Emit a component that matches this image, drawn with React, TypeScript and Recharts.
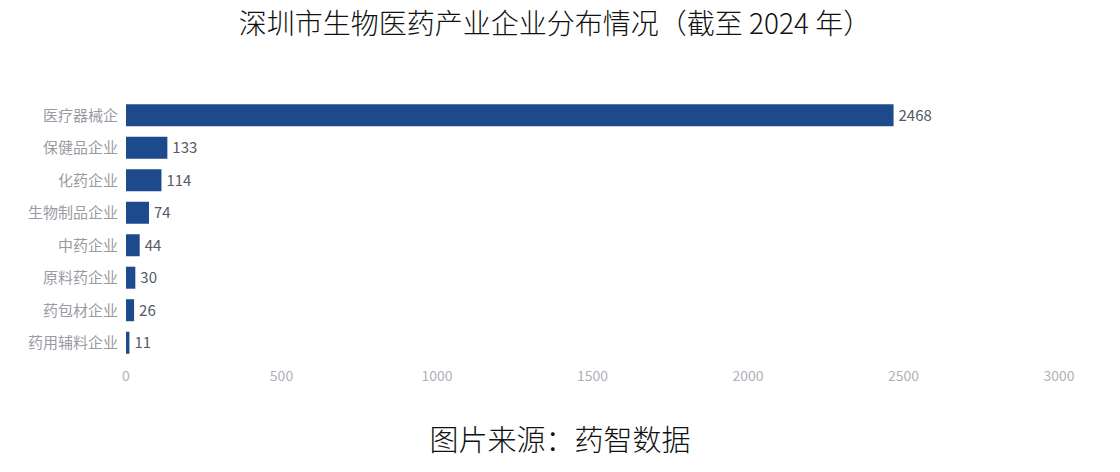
import React from "react";
import { BarChart, Bar, XAxis, YAxis, LabelList } from "recharts";

const categories = [
  "医疗器械企",
  "保健品企业",
  "化药企业",
  "生物制品企业",
  "中药企业",
  "原料药企业",
  "药包材企业",
  "药用辅料企业",
];
const counts = [2468, 133, 114, 74, 44, 30, 26, 11];
const xTicks = [0, 500, 1000, 1500, 2000, 2500, 3000];

const data = categories.map((name, i) => ({ name, value: counts[i] }));

const FONT = '"Noto Sans CJK SC", "Noto Sans", sans-serif';

export default function App() {
  return (
    <div
      style={{
        position: "absolute",
        left: 0,
        top: 0,
        width: 1120,
        height: 472,
        background: "#fff",
        fontFamily: FONT,
      }}
    >
      <div
        style={{
          position: "absolute",
          left: 0,
          top: 3,
          width: 1110,
          textAlign: "center",
          fontSize: 28,
          lineHeight: "38px",
          color: "#111",
          fontWeight: 300,
        }}
      >
        深圳市生物医药产业企业分布情况（截至 2024 年）
      </div>
      <div style={{ position: "absolute", left: 0, top: 0 }}>
        <BarChart
          width={1120}
          height={400}
          data={data}
          layout="vertical"
          margin={{ top: 99, right: 61, bottom: 11, left: 0 }}
          barCategoryGap="16%"
        >
          <XAxis
            type="number"
            domain={[0, 3000]}
            ticks={xTicks}
            axisLine={false}
            tickLine={false}
            tickMargin={6}
            height={30}
            tick={{ fill: "#b0b0b8", fontSize: 14, fontFamily: FONT }}
          />
          <YAxis
            type="category"
            dataKey="name"
            width={126}
            axisLine={false}
            tickLine={false}
            tick={{ fill: "#9a9aa2", fontSize: 15, fontFamily: FONT }}
          />
          <Bar dataKey="value" fill="#1d4a8c" isAnimationActive={false}>
            <LabelList
              dataKey="value"
              position="right"
              offset={5}
              style={{ fill: "#555a66", fontSize: 15, fontFamily: FONT }}
            />
          </Bar>
        </BarChart>
      </div>
      <div
        style={{
          position: "absolute",
          left: 0,
          top: 419,
          width: 1120,
          textAlign: "center",
          fontSize: 29,
          lineHeight: "38px",
          color: "#111",
          fontWeight: 300,
        }}
      >
        图片来源：药智数据
      </div>
    </div>
  );
}
